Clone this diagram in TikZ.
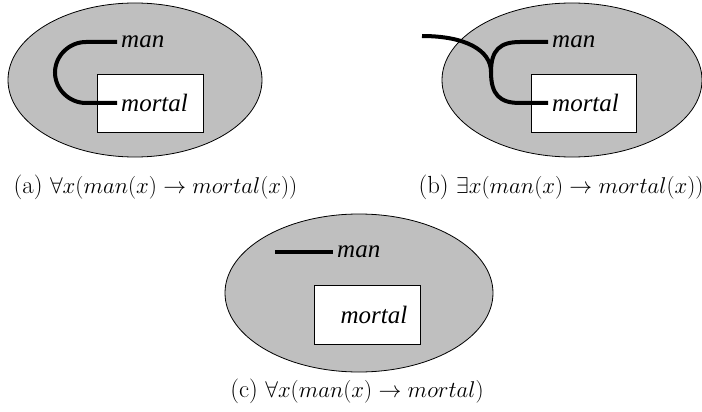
\documentclass[tikz,border=0pt]{standalone}
\usepackage{fontspec}
\newfontfamily\figfont{Liberation Serif}
\usetikzlibrary{shapes.geometric}
\newcommand{\subcap}[1]{\scalebox{1.1}{#1}}

\tikzset{
  blob/.style={ellipse, draw, fill=black!25, line width=0.8pt, inner sep=0pt},
  box/.style={rectangle, draw, fill=white, line width=0.8pt, inner sep=0pt},
  word/.style={font=\figfont\itshape\fontsize{25}{28}\selectfont, inner ysep=2pt, inner xsep=4pt},
  wire/.style={line width=4pt},
  caption/.style={font=\fontsize{22.5}{26}\selectfont}
}

\begin{document}
\begin{tikzpicture}[x=1pt,y=-1pt]
  \useasboundingbox (0,0) rectangle (702,412);
  % (a) every man is mortal
  \node[blob, minimum width=254, minimum height=154] (sa) at (135,80) {};
  \node[box, minimum width=106, minimum height=58] (ra) at (150,103) {};
  \node[word, anchor=west] (mana) at (117,42) {man};
  \node[word, anchor=west] (mortala) at (117,103) {mortal};
  \draw[wire] (mana.west) -- (86,42) .. controls (69,42) and (55,56) .. (55,72.5)
    .. controls (55,89) and (69,103) .. (86,103) -- (mortala.west);
  \node[caption] (capa) at (155.5,187) {\subcap{(a) $\forall x(man(x) \rightarrow mortal(x))$}};

  % (b) some man is mortal
  \node[blob, minimum width=260, minimum height=154] (sb) at (572,80) {};
  \node[box, minimum width=105, minimum height=58] (rb) at (583.5,103) {};
  \node[word, anchor=west] (manb) at (548,42) {man};
  \node[word, anchor=west] (mortalb) at (548,103) {mortal};
  \coordinate (tail) at (422,36);
  \coordinate (fork) at (491,72);
  \draw[wire] (tail) .. controls (465,36) and (491,50) .. (fork)
    .. controls (491,95) and (500,103) .. (520,103) -- (mortalb.west);
  \draw[wire] (fork) .. controls (491,50) and (500,42) .. (520,42) -- (manb.west);
  \node[caption] (capb) at (561,187) {\subcap{(b) $\exists x(man(x) \rightarrow mortal(x))$}};

  % (c)
  \node[blob, minimum width=268, minimum height=158] (sc) at (359,293) {};
  \node[box, minimum width=106, minimum height=59] (rc) at (367,314.5) {};
  \node[word] (mortalc) at (374,315) {mortal};
  \node[word, anchor=west] (manc) at (333,252) {man};
  \coordinate (stub) at (275,252);
  \draw[wire] (stub) -- (manc.west);
  \node[caption] (capc) at (357,391) {\subcap{(c) $\forall x(man(x) \rightarrow mortal)$}};
\end{tikzpicture}
\end{document}
